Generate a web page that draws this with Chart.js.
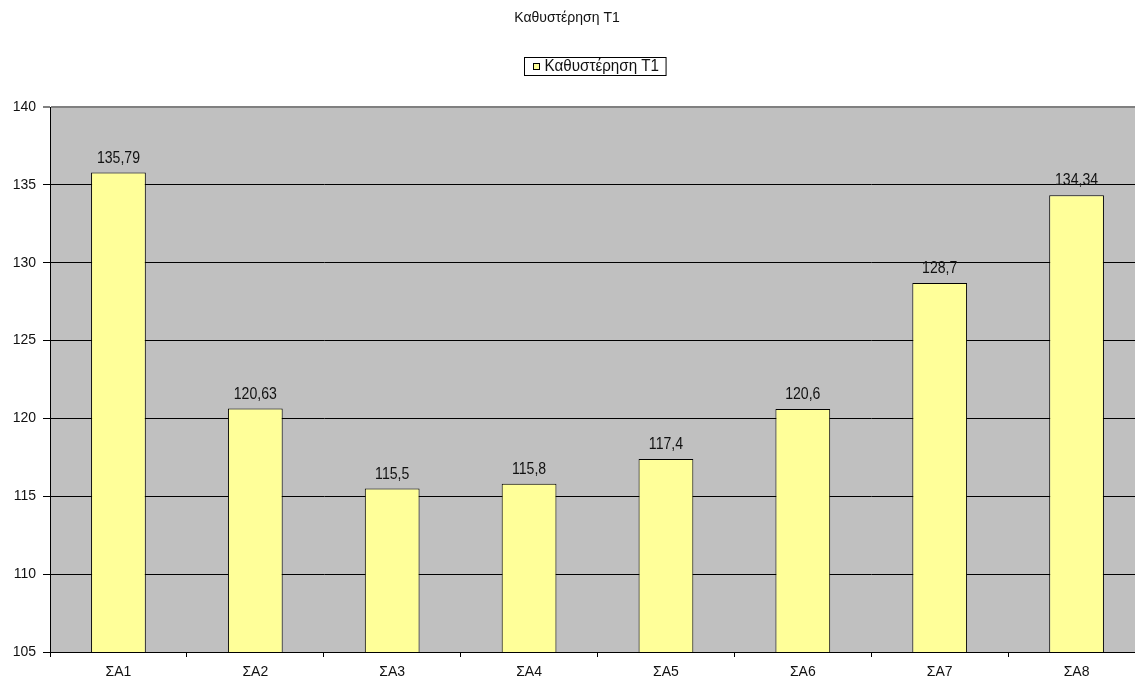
<!DOCTYPE html>
<html>
<head>
<meta charset="utf-8">
<title>Καθυστέρηση Τ1</title>
<script src="https://cdn.jsdelivr.net/npm/chart.js@4/dist/chart.umd.min.js"></script>
<style>
  html, body { margin: 0; padding: 0; background: #fff; overflow: hidden; }
  #wrap { width: 1135px; height: 683px; overflow: hidden; }
  canvas { display: block; }
</style>
</head>
<body>
<div id="wrap"><canvas id="delayChart" width="1145" height="683"></canvas></div>
<script>
// κατηγορίες και τιμές
const categories = ['ΣΑ1', 'ΣΑ2', 'ΣΑ3', 'ΣΑ4', 'ΣΑ5', 'ΣΑ6', 'ΣΑ7', 'ΣΑ8'];
const delayValues = [135.79, 120.63, 115.5, 115.8, 117.4, 120.6, 128.7, 134.34];
const yTicks = [105, 110, 115, 120, 125, 130, 135, 140];
const chartTitle = 'Καθυστέρηση Τ1';
const seriesLabel = 'Καθυστέρηση Τ1';

const FONT = '"Liberation Sans", Arial, sans-serif';
const barFill = '#ffff99';
const textColor = '#111';

// γκρι φόντο της περιοχής σχεδίασης
const plotBackground = {
  id: 'plotBackground',
  beforeDraw(chart) {
    const { ctx, chartArea: a } = chart;
    ctx.save();
    ctx.fillStyle = '#c0c0c0';
    ctx.fillRect(a.left, a.top, a.right - a.left, a.bottom - a.top);
    ctx.restore();
  }
};

// στενό κείμενο: μεγαλύτερη γραμματοσειρά, συμπιεσμένη οριζόντια
function narrowText(ctx, txt, x, y, sx) {
  ctx.save();
  ctx.translate(x, y);
  ctx.scale(sx, 1);
  ctx.fillText(txt, 0, 0);
  ctx.restore();
}

// τίτλος, υπόμνημα και ετικέτες τιμών
const decorations = {
  id: 'decorations',
  afterDraw(chart) {
    const ctx = chart.ctx;
    ctx.save();
    ctx.fillStyle = textColor;
    ctx.textBaseline = 'middle';

    // τίτλος
    ctx.font = '14px ' + FONT;
    ctx.textAlign = 'center';
    narrowText(ctx, chartTitle, 567, 18, 1);

    // υπόμνημα με πλαίσιο
    ctx.font = '16px ' + FONT;
    ctx.textAlign = 'left';
    const sx = 0.95;
    const textW = ctx.measureText(seriesLabel).width * sx;
    const boxW = 20 + textW + 7;
    const bx = Math.round(595 - boxW / 2) + 0.5;
    const by = 57.5;
    ctx.strokeStyle = '#000';
    ctx.lineWidth = 1;
    ctx.strokeRect(bx, by, boxW, 18);
    ctx.fillStyle = barFill;
    ctx.fillRect(bx + 9, by + 6, 6, 6);
    ctx.strokeRect(bx + 9, by + 6, 6, 6);
    ctx.fillStyle = textColor;
    narrowText(ctx, seriesLabel, bx + 20, by + 9.5, sx);

    // τιμές πάνω από τις μπάρες
    ctx.font = '16px ' + FONT;
    ctx.textAlign = 'center';
    ctx.textBaseline = 'alphabetic';
    const meta = chart.getDatasetMeta(0);
    meta.data.forEach((bar, i) => {
      const txt = String(delayValues[i]).replace('.', ',');
      narrowText(ctx, txt, bar.x, bar.y - 10, 0.88);
    });
    ctx.restore();
  }
};

new Chart(document.getElementById('delayChart'), {
  type: 'bar',
  data: {
    labels: categories,
    datasets: [{
      label: seriesLabel,
      data: delayValues,
      backgroundColor: barFill,
      borderColor: '#000',
      borderWidth: 1,
      borderSkipped: false,
      categoryPercentage: 1,
      barPercentage: 0.4
    }]
  },
  options: {
    responsive: false,
    animation: false,
    layout: { padding: { top: 107, right: 0, bottom: 0, left: 0 } },
    plugins: {
      legend: { display: false },
      title: { display: false },
      tooltip: { enabled: false }
    },
    scales: {
      x: {
        offset: true,
        grid: { drawOnChartArea: false, drawTicks: true, tickLength: 5, color: '#000', offset: true },
        border: { color: '#000' },
        ticks: { color: textColor, font: { family: FONT, size: 14 }, padding: 7 },
        afterFit(scale) { scale.height = 31; }
      },
      y: {
        min: 105,
        max: 140,
        afterBuildTicks(scale) { scale.ticks = yTicks.map(v => ({ value: v })); },
        grid: {
          color: ctx => (ctx.tick && ctx.tick.value === 140 ? '#808080' : '#000'),
          lineWidth: ctx => (ctx.tick && ctx.tick.value === 140 ? 2 : 1),
          tickLength: 7
        },
        border: { color: '#000' },
        ticks: { color: textColor, font: { family: FONT, size: 14 }, padding: 7 },
        afterFit(scale) { scale.width = 50; }
      }
    }
  },
  plugins: [plotBackground, decorations]
});
</script>
</body>
</html>
